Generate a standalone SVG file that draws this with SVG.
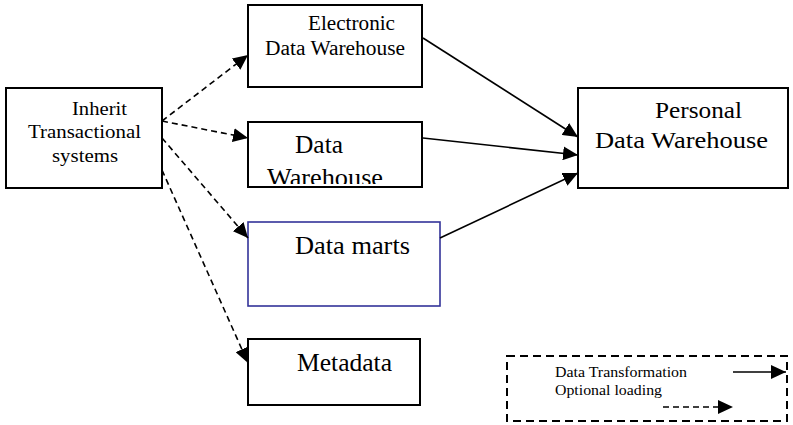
<svg xmlns="http://www.w3.org/2000/svg" width="793" height="425" viewBox="0 0 793 425">
<style>
.box{fill:#fff;stroke:#000;stroke-width:2}
.blue{fill:#fff;stroke:#333399;stroke-width:1.6}
.t{font-family:"Liberation Serif","Times New Roman",serif;fill:#000}
.solid{stroke:#000;stroke-width:1.6;fill:none}
.dash{stroke:#000;stroke-width:1.6;fill:none;stroke-dasharray:6 4}
</style>
<defs>
<marker id="ah" markerUnits="userSpaceOnUse" markerWidth="16" markerHeight="14" refX="15" refY="7" orient="auto">
<path d="M0,0 L15,7 L0,14 Z" fill="#000"/>
</marker>
<clipPath id="dwclip"><rect x="248" y="122" width="174" height="62"/></clipPath>
</defs>
<rect width="793" height="425" fill="#fff"/>
<g id="inherit">
<rect class="box" x="6" y="88" width="156" height="100"/>
<text class="t" font-size="19" x="72" y="115" textLength="55" lengthAdjust="spacingAndGlyphs">Inherit</text>
<text class="t" font-size="19" x="28" y="138" textLength="113" lengthAdjust="spacingAndGlyphs">Transactional</text>
<text class="t" font-size="19" x="52" y="162" textLength="66" lengthAdjust="spacingAndGlyphs">systems</text>
</g>
<g id="edw">
<rect class="box" x="248" y="5" width="174" height="82"/>
<text class="t" font-size="20" x="308" y="30" textLength="87" lengthAdjust="spacingAndGlyphs">Electronic</text>
<text class="t" font-size="20" x="265" y="55" textLength="140" lengthAdjust="spacingAndGlyphs">Data Warehouse</text>
</g>
<g id="dw">
<rect class="box" x="248" y="122" width="174" height="65"/>
<g clip-path="url(#dwclip)">
<text class="t" font-size="25" x="295" y="153" textLength="48" lengthAdjust="spacingAndGlyphs">Data</text>
<text class="t" font-size="25" x="267" y="186" textLength="116" lengthAdjust="spacingAndGlyphs">Warehouse</text>
</g>
</g>
<g id="marts">
<rect class="blue" x="248" y="222" width="192" height="84"/>
<text class="t" font-size="26" x="295" y="254" textLength="115" lengthAdjust="spacingAndGlyphs">Data marts</text>
</g>
<g id="metadata">
<rect class="box" x="248" y="339" width="172" height="66"/>
<text class="t" font-size="25" x="297" y="371" textLength="95" lengthAdjust="spacingAndGlyphs">Metadata</text>
</g>
<g id="pdw">
<rect class="box" x="578" y="88" width="210" height="100"/>
<text class="t" font-size="24" x="655" y="118" textLength="87" lengthAdjust="spacingAndGlyphs">Personal</text>
<text class="t" font-size="24" x="595" y="148" textLength="173" lengthAdjust="spacingAndGlyphs">Data Warehouse</text>
</g>
<g id="legend">
<rect x="507" y="356" width="280" height="65" fill="none" stroke="#000" stroke-width="2" stroke-dasharray="8 5"/>
<text class="t" font-size="14" x="555" y="377" textLength="132" lengthAdjust="spacingAndGlyphs">Data Transformation</text>
<text class="t" font-size="14" x="555" y="395" textLength="107" lengthAdjust="spacingAndGlyphs">Optional loading</text>
<line class="solid" x1="733" y1="372" x2="786" y2="372" marker-end="url(#ah)"/>
<line class="dash" x1="663" y1="407" x2="733" y2="407" marker-end="url(#ah)"/>
</g>
<g id="connectors">
<line class="dash" x1="162" y1="121" x2="248" y2="55" marker-end="url(#ah)"/>
<line class="dash" x1="162" y1="121" x2="248" y2="138" marker-end="url(#ah)"/>
<line class="dash" x1="162" y1="138" x2="248" y2="238" marker-end="url(#ah)"/>
<line class="dash" x1="162" y1="170" x2="248" y2="363" marker-end="url(#ah)"/>
<line class="solid" x1="423" y1="38" x2="578" y2="137" marker-end="url(#ah)"/>
<line class="solid" x1="423" y1="138" x2="578" y2="155" marker-end="url(#ah)"/>
<line class="solid" x1="440" y1="238" x2="578" y2="173" marker-end="url(#ah)"/>
</g>
</svg>
